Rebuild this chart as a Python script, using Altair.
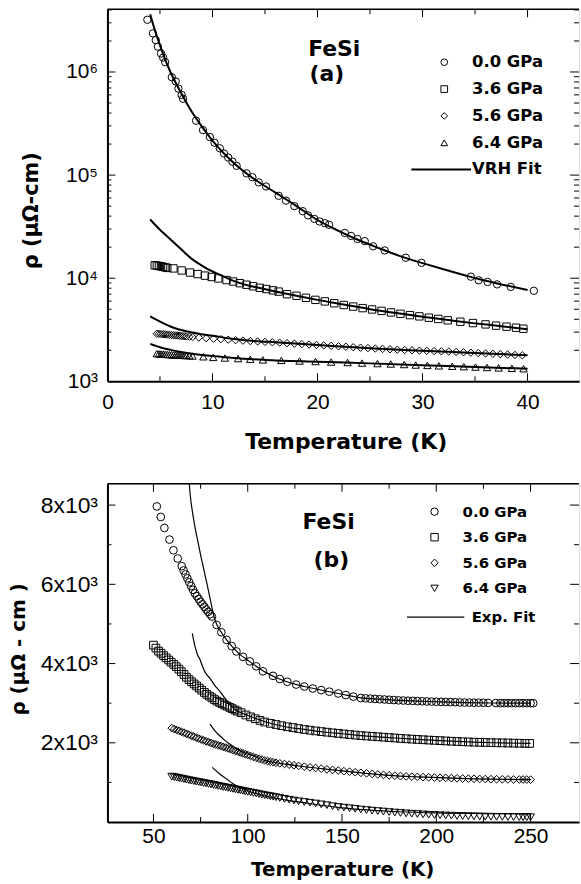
import altair as alt
import pandas as pd

FONT = "Liberation Sans"
BOLD = "DejaVu Sans"

# ---------------- Panel (a): 0 - 45 K, log scale ----------------
a_series = ["0.0 GPa", "3.6 GPa", "5.6 GPa", "6.4 GPa"]
a_shapes = ["circle", "square", "diamond", "triangle-up"]
a_fit_name = "VRH Fit"

a_T_00 = [3.8, 4.33, 4.6, 4.8, 5.1, 5.3, 5.5, 6.13, 6.5, 6.76, 7.06, 7.2, 8.44, 9.1, 9.75, 10.2,
          10.7, 11.1, 11.5, 11.9, 12.3, 13.24, 13.8, 14.4, 15.1, 16.3, 17.0, 17.8, 18.6, 19.1, 19.7,
          20.2, 20.7, 21.1, 22.6, 23.2, 23.8, 24.5, 25.3, 26.4, 28.4, 29.9, 34.6, 35.35, 36.2, 37.1,
          38.4, 40.6]
a_R_00 = [3.21e6, 2.37e6, 2.04e6, 1.76e6, 1.51e6, 1.38e6, 1.245e6, 8.9e5, 8.1e5, 6.9e5, 6.0e5,
          5.5e5, 3.37e5, 2.73e5, 2.34e5, 2.06e5, 1.82e5, 1.62e5, 1.48e5, 1.35e5, 1.23e5, 1.04e5,
          9.55e4, 8.5e4, 7.76e4, 6.3e4, 5.65e4, 5.0e4, 4.47e4, 4.07e4, 3.76e4, 3.55e4, 3.42e4,
          3.3e4, 2.75e4, 2.57e4, 2.4e4, 2.29e4, 2.04e4, 1.86e4, 1.58e4, 1.41e4, 1.035e4, 9550,
          9200, 8710, 8240, 7550]

a_T_36 = [4.5, 4.7, 4.9, 5.1, 5.3, 5.5, 5.7, 6.28, 7.07, 7.86, 8.59, 9.28, 9.92, 10.55, 11.34,
          11.97, 12.6, 13.24, 13.87, 14.5, 15.13, 15.76, 16.3, 17.1, 18.0, 18.9, 19.8, 20.7, 21.6,
          22.5, 23.4, 24.3, 25.2, 26.1, 27.0, 27.9, 28.8, 29.7, 30.6, 31.5, 32.4, 33.6, 34.8, 36.0,
          37.0, 38.0, 38.9, 39.6]
a_R_36 = [13335, 13243, 13122, 13032, 12882, 12735, 12589, 12445, 11885, 11350, 10965, 10593,
          10280, 9954, 9594, 9290, 8954, 8650, 8356, 8072, 7852, 7621, 7413, 6998, 6761, 6457,
          6166, 5957, 5715, 5495, 5309, 5129, 4977, 4819, 4656, 4519, 4385, 4266, 4140, 4027,
          3908, 3784, 3673, 3565, 3467, 3388, 3311, 3236]

a_T_56 = [4.7, 4.9, 5.1, 5.3, 5.5, 5.7, 5.9, 6.1, 6.3, 6.5, 6.7, 6.9, 7.1, 7.3, 7.5, 7.8, 8.1,
          8.7, 9.4, 10.1, 10.8, 11.5, 12.2, 12.9, 13.6, 14.3, 15.0, 15.7, 16.4, 17.1, 17.8, 18.5,
          19.2, 19.9, 20.6, 21.3, 22.0, 22.7, 23.4, 24.1, 24.8, 25.5, 26.2, 26.9, 27.6, 28.3,
          29.0, 29.7, 30.4, 31.1, 31.8, 32.5, 33.2, 33.9, 34.6, 35.3, 36.0, 36.7, 37.4, 38.1,
          38.8, 39.5]
a_R_56 = [2897, 2886, 2875, 2863, 2851, 2838, 2825, 2812, 2799, 2786, 2774, 2762, 2749, 2737,
          2724, 2708, 2688, 2655, 2620, 2595, 2565, 2535, 2505, 2480, 2455, 2435, 2413, 2392,
          2370, 2345, 2320, 2297, 2275, 2252, 2230, 2210, 2188, 2165, 2142, 2120, 2100, 2080,
          2060, 2044, 2028, 2012, 2000, 1988, 1976, 1965, 1955, 1944, 1930, 1912, 1896, 1880,
          1862, 1848, 1834, 1818, 1802, 1788]

a_T_64 = [4.7, 4.9, 5.1, 5.3, 5.5, 5.7, 5.9, 6.1, 6.3, 6.5, 6.7, 6.9, 7.1, 7.3, 7.5, 7.8, 8.1,
          9.13, 10.07, 11.18, 12.44, 13.6, 14.8, 16.56, 18.29, 19.81, 21.3, 22.87, 24.24, 25.71,
          26.98, 28.25, 29.35, 30.46, 31.56, 32.83, 33.93, 35.04, 36.14, 37.25, 38.51, 39.62]
a_R_64 = [1854, 1848, 1841, 1835, 1828, 1822, 1816, 1810, 1804, 1799, 1795, 1790, 1786, 1782,
          1778, 1770, 1760, 1730, 1706, 1683, 1660, 1637, 1614, 1596, 1574, 1556, 1538, 1521,
          1503, 1486, 1472, 1455, 1439, 1426, 1413, 1400, 1387, 1374, 1361, 1349, 1337, 1324]

a_fitT_00 = [4.07, 4.5, 5, 5.5, 6, 7, 8, 9, 10, 12, 14, 16, 18, 20, 22, 24, 26, 28, 30, 32, 34,
             36, 38, 40]
a_fitR_00 = [3.63e6, 2.57e6, 1.82e6, 1.32e6, 1.0e6, 6.3e5, 4.17e5, 2.95e5, 2.16e5, 1.32e5,
             9.12e4, 6.76e4, 5.01e4, 3.67e4, 2.88e4, 2.32e4, 1.93e4, 1.62e4, 1.40e4, 1.22e4,
             1.07e4, 9440, 8510, 7670]
a_fitT_36 = [4.07, 5, 5.65, 6.5, 7.2, 8, 8.8, 9.6, 10.4, 12, 13, 14.5, 16, 18, 20, 22.5, 25,
             27.5, 30, 32.5, 35, 37.5, 40]
a_fitR_36 = [37154, 29512, 25704, 21380, 18323, 15488, 13614, 12162, 11143, 9419, 8710, 8035,
             7447, 6761, 6166, 5559, 5012, 4592, 4236, 3926, 3648, 3428, 3199]
a_fitT_56 = [4.07, 5, 6.3, 7.5, 8.8, 10, 12, 14, 16, 20, 25, 30, 35, 40]
a_fitR_56 = [4266, 3802, 3311, 3055, 2884, 2773, 2570, 2466, 2393, 2249, 2089, 1977, 1884, 1786]
a_fitT_64 = [4.07, 5, 6, 7, 8.8, 10, 12, 15, 20, 25, 30, 35, 40]
a_fitR_64 = [2307, 2138, 2018, 1928, 1811, 1758, 1683, 1614, 1549, 1493, 1435, 1377, 1324]

a_xdomain = [0, 44.9]
a_ydomain = [1000, 4.06e6]
a_xticks_major = [10, 20, 30, 40]
a_xticks_minor = [5, 15, 25, 35]
a_xlabels = [0, 10, 20, 30, 40]
a_ylabel_values = [1000, 10000, 100000, 1000000]
a_ylabel_text = ["10³", "10⁴", "10⁵", "10⁶"]
a_yticks_major = [1e4, 1e5, 1e6]
a_yticks_minor = [2e3, 3e3, 4e3, 5e3, 6e3, 7e3, 8e3, 9e3, 2e4, 3e4, 4e4, 5e4, 6e4, 7e4, 8e4, 9e4,
                  2e5, 3e5, 4e5, 5e5, 6e5, 7e5, 8e5, 9e5, 2e6, 3e6, 4e6]
a_notes = ["FeSi", "(a)"]
a_notes_T = [21.6, 20.9]
a_notes_R = [1.667e6, 9.46e5]

# ---------------- Panel (b): 25 - 275 K, linear scale ----------------
b_series = ["0.0 GPa", "3.6 GPa", "5.6 GPa", "6.4 GPa"]
b_shapes = ["circle", "square", "diamond", "triangle-down"]
b_fit_name = "Exp. Fit"

b_T_00 = [51.8, 53.9, 55.8, 58.5, 60.6, 62.9, 65.0, 66, 67, 68, 69, 70, 71, 72, 73, 74, 75, 76,
          77, 78, 79, 80, 81, 83.5, 86.0, 88.8, 91.5, 94.0, 97.5, 101.1, 104.5, 108.1, 113.4, 117,
          121, 125.7, 130, 134.5, 139, 143.3, 148, 152, 156, 160, 162.5, 165, 167.5, 170, 172.5,
          175, 177.5, 180, 182.5, 185, 187.5, 190, 192.5, 195, 197.5, 200, 202.5, 205, 207.5,
          210, 212.5, 215, 217.5, 220, 222.5, 225, 227.5, 231.6, 234, 236, 238, 240, 242, 244,
          246, 248, 250, 251.4]
b_R_00 = [7966, 7700, 7423, 7129, 6860, 6652, 6458, 6350, 6250, 6150, 6050, 5955, 5862, 5772,
          5700, 5630, 5560, 5495, 5430, 5365, 5305, 5245, 5186, 4975, 4790, 4598, 4440, 4306,
          4170, 4055, 3930, 3804, 3690, 3610, 3540, 3470, 3420, 3370, 3330, 3290, 3245, 3205,
          3165, 3130, 3122, 3114, 3107, 3100, 3093, 3086, 3079, 3072, 3067, 3062, 3058, 3053,
          3048, 3043, 3040, 3036, 3033, 3031, 3028, 3024, 3019, 3015, 3014, 3013, 3012, 3010,
          3008, 3003, 3002, 3001, 3001, 3000, 3000, 3000, 3000, 3000, 3000, 3000]

b_T_36 = [50.0, 51.3, 52.7, 54.0, 55.4, 56.7, 58.1, 59.4, 60.8, 62.1, 63.5, 64.8, 66.2, 67.5,
          68.9, 70.2, 71.6, 72.9, 74.3, 75.6, 77.0, 78.3, 79.7, 81.0, 82.4, 83.7, 85.1, 86.4,
          87.8, 89.1, 90.5, 91.8, 93.2, 94.5, 96.5, 99.0, 101.5, 104.0, 106.5, 109.0, 112, 115,
          118, 121, 124, 127, 130, 133, 136, 139, 142, 145, 148, 151, 154, 157, 160, 163, 166,
          169, 172, 175, 178, 181, 184, 187, 190, 193, 196, 199, 202, 205, 208, 211, 214, 217,
          220, 223, 226, 229, 232, 235, 238, 241, 244, 247, 249.5]
b_R_36 = [4465, 4390, 4314, 4260, 4200, 4145, 4090, 4035, 3978, 3922, 3860, 3795, 3725, 3655,
          3595, 3540, 3485, 3434, 3380, 3328, 3272, 3222, 3178, 3135, 3090, 3052, 3018, 2985,
          2953, 2925, 2893, 2862, 2828, 2800, 2760, 2703, 2655, 2608, 2565, 2525, 2490, 2462,
          2432, 2405, 2385, 2360, 2337, 2318, 2300, 2283, 2268, 2252, 2237, 2223, 2209, 2195,
          2182, 2172, 2162, 2152, 2142, 2132, 2122, 2112, 2102, 2093, 2085, 2077, 2069, 2062,
          2055, 2047, 2040, 2033, 2027, 2021, 2016, 2012, 2008, 2004, 2001, 1998, 1995, 1992,
          1989, 1986, 1984]

b_T_56 = [59.7, 61.0, 62.3, 63.6, 64.9, 66.2, 67.5, 68.8, 70.1, 71.4, 72.7, 74.0, 75.3, 76.6,
          77.9, 79.2, 80.5, 81.8, 83.1, 84.4, 85.7, 87.0, 88.3, 89.6, 90.9, 92.2, 93.5, 94.8,
          96.1, 97.4, 98.7, 100.0, 101.5, 103.0, 104.5, 106.0, 107.5, 109.0, 110.5, 112.0, 113.5,
          115.0, 117.0, 119.5, 122, 124.5, 127, 130, 133, 136, 139, 142, 145, 148, 151, 154, 157,
          160, 163, 166, 169, 172, 175, 178, 181, 184, 187, 190, 193, 196, 199, 202, 205, 208,
          211, 214, 217, 220, 223, 226, 229, 232, 235, 238, 241, 244, 246, 248, 250]
b_R_56 = [2371, 2348, 2325, 2302, 2279, 2255, 2230, 2205, 2181, 2156, 2132, 2107, 2084, 2062,
          2040, 2018, 1997, 1976, 1956, 1937, 1918, 1898, 1878, 1858, 1838, 1818, 1797, 1776,
          1755, 1734, 1713, 1692, 1668, 1643, 1620, 1598, 1578, 1558, 1540, 1524, 1510, 1497,
          1482, 1465, 1449, 1433, 1417, 1398, 1380, 1363, 1346, 1330, 1315, 1300, 1285, 1271,
          1257, 1243, 1229, 1215, 1201, 1189, 1178, 1169, 1161, 1153, 1146, 1140, 1134, 1128,
          1123, 1118, 1114, 1109, 1104, 1099, 1095, 1091, 1088, 1085, 1082, 1080, 1078, 1077,
          1075, 1074, 1073, 1072, 1071]

b_T_64 = b_T_56
b_R_64 = [1146, 1134, 1121, 1108, 1096, 1083, 1070, 1057, 1044, 1032, 1020, 1009, 997, 985,
          974, 962, 950, 937, 924, 911, 898, 886, 874, 862, 849, 837, 824, 812, 800, 787, 775,
          762, 748, 734, 720, 706, 692, 677, 664, 651, 638, 625, 607, 585, 563, 543, 525, 505,
          487, 468, 447, 425, 400, 380, 364, 349, 333, 317, 302, 288, 277, 265, 252, 240, 230,
          219, 210, 202, 193, 185, 178, 172, 166, 161, 155, 151, 147, 144, 140, 137, 134, 132,
          130, 128, 126, 125, 124, 123, 123]

b_fitT_00 = [68.6, 69.5, 70.3, 71.1, 72.4, 73.8, 75.1, 76.4, 77.8, 79.1, 80.6, 82.1, 84.0, 86.0,
             88.8, 92, 96, 100, 105, 110, 115, 120, 125, 130, 140, 150, 160, 170, 180, 190, 200,
             215, 230, 250]
b_fitR_00 = [8800, 8260, 7950, 7700, 7350, 7029, 6720, 6443, 6140, 5855, 5510, 5186, 4940, 4790,
             4598, 4415, 4225, 4085, 3915, 3765, 3650, 3555, 3480, 3420, 3320, 3225, 3135, 3100,
             3072, 3053, 3036, 3015, 3004, 3000]
b_fitT_36 = [70.6, 72.0, 73.3, 74.7, 76.0, 77.3, 78.6, 80.0, 82.5, 85.2, 88.0, 90.5, 93.0, 96.0,
             100, 105, 110, 120, 130, 140, 150, 160, 175, 190, 205, 220, 235, 250]
b_fitR_36 = [4760, 4440, 4230, 4100, 3930, 3790, 3700, 3625, 3450, 3300, 3120, 2974, 2845, 2770,
             2690, 2600, 2520, 2405, 2337, 2273, 2228, 2182, 2132, 2085, 2047, 2016, 1997, 1984]
b_fitT_56 = [80.0, 82.5, 85.2, 88.0, 90.5, 93.0, 95.8, 99.0, 102.8, 106, 110, 115, 120, 127, 135,
             145, 155, 165, 175, 190, 205, 220, 235, 250]
b_fitR_56 = [2471, 2310, 2177, 2055, 1968, 1880, 1800, 1730, 1674, 1605, 1545, 1497, 1460, 1415,
             1370, 1315, 1265, 1220, 1178, 1140, 1114, 1091, 1078, 1071]
b_fitT_64 = [81.2, 85.0, 88.8, 92.0, 95.8, 100, 106.4, 115, 125, 135, 150, 165, 180, 200, 225, 250]
b_fitR_64 = [1380, 1220, 1089, 975, 877, 790, 690, 600, 520, 450, 360, 300, 260, 230, 215, 209]

b_xdomain = [25.6, 275.7]
b_ydomain = [0, 8537]
b_xticks_major = [50, 100, 150, 200, 250]
b_xticks_minor = [75, 125, 175, 225]
b_xlabels = [50, 100, 150, 200, 250]
b_ylabel_values = [2000, 4000, 6000, 8000]
b_ylabel_text = ["2x10³", "4x10³", "6x10³", "8x10³"]
b_yticks_major = [2000, 4000, 6000, 8000]
b_yticks_minor = [1000, 3000, 5000, 7000]
b_notes = ["FeSi", "(b)"]
b_notes_T = [142.9, 144.4]
b_notes_R = [7582, 6601]


def series_frame(names, T_lists, R_lists, fit_name=None):
    rows = []
    for name, Ts, Rs in zip(names, T_lists, R_lists):
        for t, r in zip(Ts, Rs):
            row = {"T": t, "rho": r, "series": name}
            if fit_name:
                row["fit"] = fit_name
            rows.append(row)
    return pd.DataFrame(rows)


def label_expr(values, texts):
    expr = "''"
    for v, t in reversed(list(zip(values, texts))):
        expr = f"datum.value == {v} ? '{t}' : {expr}"
    return expr


def build_panel(c):
    xscale = alt.Scale(domain=c["xdom"], nice=False, zero=False)
    if c["ylog"]:
        yscale = alt.Scale(type="log", domain=c["ydom"], nice=False)
    else:
        yscale = alt.Scale(domain=c["ydom"], nice=False, zero=False)
    xaxis = alt.Axis(values=c["xlabels"], title="Temperature (K)", grid=False, ticks=False,
                     labelFont=FONT, labelFontSize=c["xlabsize"], labelColor="black",
                     labelPadding=c["xlabpad"], labelFlush=False, labelOverlap=False,
                     domainColor="black", domainWidth=2,
                     titleFont=BOLD, titleFontWeight="bold", titleFontSize=c["xtitlesize"],
                     titleColor="black", titleX=c["xtitleX"], titleY=c["xtitleY"],
                     titleBaseline="middle", titleAlign="center")
    yaxis = alt.Axis(values=c["ylabvals"], labelExpr=label_expr(c["ylabvals"], c["ylabtext"]),
                     title=c["ytitle"], grid=False, ticks=False,
                     labelFont=FONT, labelFontSize=c["ylabsize"], labelColor="black",
                     labelPadding=10, labelFlush=False, labelOverlap=False,
                     domainColor="black", domainWidth=2,
                     titleFont=BOLD, titleFontWeight="bold", titleFontSize=c["ytitlesize"],
                     titleColor="black", titleAngle=270, titleX=c["ytitleX"], titleY=c["ytitleY"],
                     titleBaseline="middle", titleAlign="center")
    X = alt.X("T:Q", scale=xscale, axis=xaxis)
    Y = alt.Y("rho:Q", scale=yscale, axis=yaxis)

    pts = alt.Chart(c["pts"]).mark_point(
        filled=False, size=c["msize"], strokeWidth=1, color="black", opacity=1
    ).encode(
        x=X, y=Y,
        shape=alt.Shape("series:N", scale=alt.Scale(domain=c["series"], range=c["shapes"]),
                        legend=alt.Legend(orient="none", legendX=c["lgX"], legendY=c["lgY"],
                                          direction="vertical", title=None, padding=0,
                                          labelFont=BOLD, labelFontWeight="bold",
                                          labelFontSize=c["lgfont"], labelColor="black",
                                          labelOffset=c["lgoff"], rowPadding=c["lgrow"],
                                          symbolSize=c["lgsym"], symbolStrokeWidth=1,
                                          symbolStrokeColor="black",
                                          symbolFillColor="transparent")),
    )
    fits = alt.Chart(c["fits"]).mark_line(strokeWidth=c["lw"], clip=True,
                                          interpolate="monotone").encode(
        x=X, y=Y, detail="series:N", order="T:Q",
        color=alt.Color("fit:N", scale=alt.Scale(domain=[c["fitname"]], range=["black"]),
                        legend=alt.Legend(orient="none", legendX=c["flX"], legendY=c["flY"],
                                          title=None, padding=0, symbolType="stroke",
                                          symbolSize=c["flsize"], symbolStrokeWidth=c["lw"],
                                          labelFont=BOLD, labelFontWeight="bold",
                                          labelFontSize=c["lgfont"], labelColor="black",
                                          labelOffset=c["floff"])),
    )

    x0, x1 = c["xdom"]
    y0, y1 = c["ydom"]
    layers = [pts, fits]
    tick_specs = [
        (c["xmaj"], [y0] * len(c["xmaj"]), "vertical", 8, 0, -4),
        (c["xmin"], [y0] * len(c["xmin"]), "vertical", 5, 0, -2.5),
        (c["xmaj"], [y1] * len(c["xmaj"]), "vertical", 8, 0, 4),
        (c["xmin"], [y1] * len(c["xmin"]), "vertical", 5, 0, 2.5),
        ([x0] * len(c["ymaj"]), c["ymaj"], "horizontal", 8, 4, 0),
        ([x0] * len(c["ymin"]), c["ymin"], "horizontal", 4, 2, 0),
        ([x1] * len(c["ymaj"]), c["ymaj"], "horizontal", 9, -4.5, 0),
        ([x1] * len(c["ymin"]), c["ymin"], "horizontal", 5, -2.5, 0),
    ]
    for Ts, Rs, orient, size, xo, yo in tick_specs:
        df = pd.DataFrame({"T": Ts, "rho": Rs})
        layers.append(
            alt.Chart(df).mark_tick(orient=orient, size=size, thickness=1, color="black",
                                    opacity=1, xOffset=xo, yOffset=yo).encode(x=X, y=Y)
        )
    top = alt.Chart(pd.DataFrame({"rho": [y1]})).mark_rule(color="black", strokeWidth=1.5).encode(y=Y)
    layers.append(top)
    notes = alt.Chart(pd.DataFrame({"T": c["notesT"], "rho": c["notesR"], "label": c["notes"]})).mark_text(
        font=BOLD, fontWeight="bold", fontSize=22, align="center", baseline="middle", color="black"
    ).encode(x=X, y=Y, text="label:N")
    layers.append(notes)
    return alt.layer(*layers).properties(width=c["w"], height=c["h"])


panel_a = build_panel(dict(
    pts=series_frame(a_series, [a_T_00, a_T_36, a_T_56, a_T_64], [a_R_00, a_R_36, a_R_56, a_R_64]),
    fits=series_frame(a_series, [a_fitT_00, a_fitT_36, a_fitT_56, a_fitT_64],
                      [a_fitR_00, a_fitR_36, a_fitR_56, a_fitR_64], a_fit_name),
    series=a_series, shapes=a_shapes, fitname=a_fit_name,
    xdom=a_xdomain, ydom=a_ydomain, ylog=True,
    xlabels=a_xlabels, xmaj=a_xticks_major, xmin=a_xticks_minor,
    ylabvals=a_ylabel_values, ylabtext=a_ylabel_text, ymaj=a_yticks_major, ymin=a_yticks_minor,
    ytitle="ρ (μΩ-cm)", xlabsize=21, xlabpad=10, xtitlesize=22, xtitleX=239.5, xtitleY=61,
    ylabsize=21, ytitlesize=21, ytitleX=-76, ytitleY=202,
    msize=55, lw=2,
    lgX=330.3, lgY=45, lgfont=16.5, lgoff=19.7, lgrow=10, lgsym=45,
    flX=304.5, flY=130, flsize=3600, floff=0,
    notes=a_notes, notesT=a_notes_T, notesR=a_notes_R,
    w=474, h=374,
))

panel_b = build_panel(dict(
    pts=series_frame(b_series, [b_T_00, b_T_36, b_T_56, b_T_64], [b_R_00, b_R_36, b_R_56, b_R_64]),
    fits=series_frame(b_series, [b_fitT_00, b_fitT_36, b_fitT_56, b_fitT_64],
                      [b_fitR_00, b_fitR_36, b_fitR_56, b_fitR_64], b_fit_name),
    series=b_series, shapes=b_shapes, fitname=b_fit_name,
    xdom=b_xdomain, ydom=b_ydomain, ylog=False,
    xlabels=b_xlabels, xmaj=b_xticks_major, xmin=b_xticks_minor,
    ylabvals=b_ylabel_values, ylabtext=b_ylabel_text, ymaj=b_yticks_major, ymin=b_yticks_minor,
    ytitle="ρ (μΩ - cm )", xlabsize=21, xlabpad=4, xtitlesize=20, xtitleX=236, xtitleY=48,
    ylabsize=23, ytitlesize=20, ytitleX=-89, ytitleY=166,
    msize=60, lw=1.2,
    lgX=321.3, lgY=20.5, lgfont=15, lgoff=20.7, lgrow=9.7, lgsym=55,
    flX=300.4, flY=104.6, flsize=3320, floff=6.7,
    notes=b_notes, notesT=b_notes_T, notesR=b_notes_R,
    w=474, h=340,
))

chart = alt.vconcat(panel_a, panel_b, spacing=103, bounds="flush").resolve_scale(
    shape="independent", color="independent"
).resolve_legend(
    shape="independent", color="independent"
).properties(
    padding={"left": 8, "top": 5, "right": 0, "bottom": 5}
).configure_view(stroke="transparent").configure(background="white")

chart.save("out.html", embed_options={"renderer": "svg", "actions": False})
